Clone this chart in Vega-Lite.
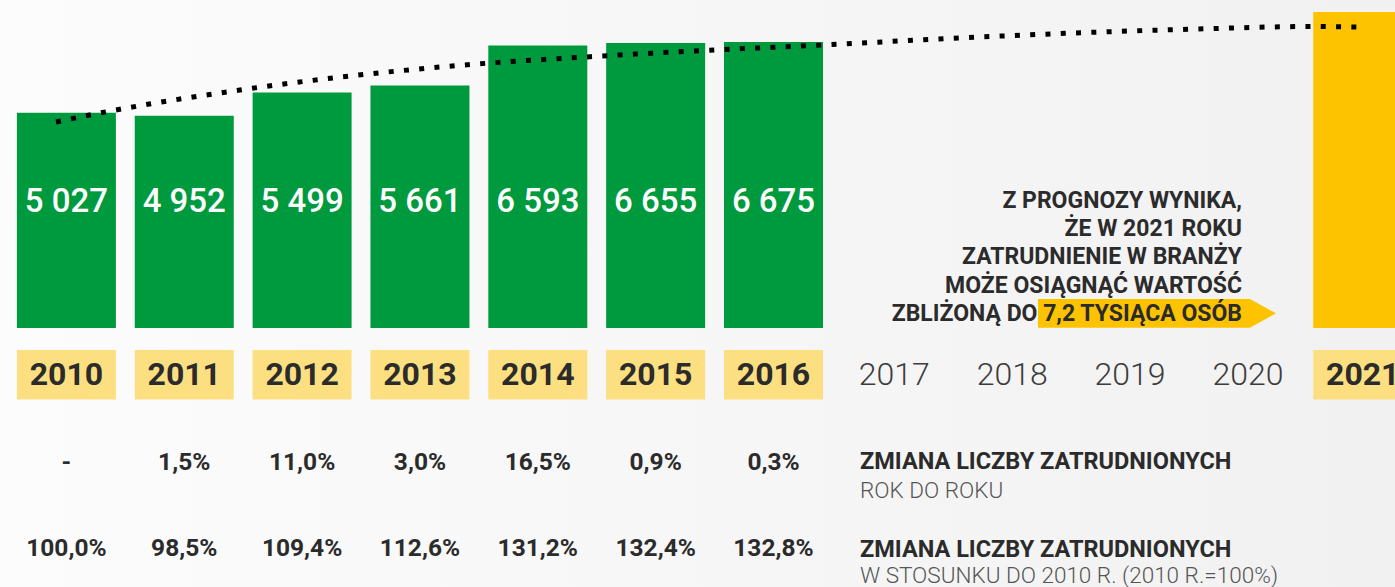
{
  "$schema": "https://vega.github.io/schema/vega-lite/v6.json",
  "width": 1395,
  "height": 587,
  "autosize": {"type": "none"},
  "padding": 0,
  "background": "#f6f6f6",
  "config": {
    "view": {"stroke": null, "fill": {"gradient": "linear", "x1": 0, "y1": 0, "x2": 1, "y2": 0, "stops": [{"offset": 0, "color": "#fcfcfc"}, {"offset": 1, "color": "#f1f1f1"}]}},
    "font": "Roboto",
    "text": {"font": "Roboto"}
  },
  "datasets": {
    "bars": [
      {"year": 2010, "value": 5027, "label": "5 027", "kind": "dane"},
      {"year": 2011, "value": 4952, "label": "4 952", "kind": "dane"},
      {"year": 2012, "value": 5499, "label": "5 499", "kind": "dane"},
      {"year": 2013, "value": 5661, "label": "5 661", "kind": "dane"},
      {"year": 2014, "value": 6593, "label": "6 593", "kind": "dane"},
      {"year": 2015, "value": 6655, "label": "6 655", "kind": "dane"},
      {"year": 2016, "value": 6675, "label": "6 675", "kind": "dane"},
      {"year": 2021, "value": 7375, "label": "", "kind": "prognoza"}
    ],
    "years": [
      {"year": 2010, "boxed": true},
      {"year": 2011, "boxed": true},
      {"year": 2012, "boxed": true},
      {"year": 2013, "boxed": true},
      {"year": 2014, "boxed": true},
      {"year": 2015, "boxed": true},
      {"year": 2016, "boxed": true},
      {"year": 2017, "boxed": false},
      {"year": 2018, "boxed": false},
      {"year": 2019, "boxed": false},
      {"year": 2020, "boxed": false},
      {"year": 2021, "boxed": true}
    ],
    "table": [
      {"year": 2010, "yoy": "-", "idx": "100,0%"},
      {"year": 2011, "yoy": "1,5%", "idx": "98,5%"},
      {"year": 2012, "yoy": "11,0%", "idx": "109,4%"},
      {"year": 2013, "yoy": "3,0%", "idx": "112,6%"},
      {"year": 2014, "yoy": "16,5%", "idx": "131,2%"},
      {"year": 2015, "yoy": "0,9%", "idx": "132,4%"},
      {"year": 2016, "yoy": "0,3%", "idx": "132,8%"}
    ],
    "trend": [
      {"year": 2009.912, "value": 4808},
      {"year": 2010.285, "value": 5018},
      {"year": 2011.473, "value": 5555},
      {"year": 2012.406, "value": 5882},
      {"year": 2013.427, "value": 6150},
      {"year": 2014.445, "value": 6332},
      {"year": 2015.438, "value": 6482},
      {"year": 2016.422, "value": 6605},
      {"year": 2017.39, "value": 6745},
      {"year": 2018.544, "value": 6885},
      {"year": 2019.596, "value": 6979},
      {"year": 2020.555, "value": 7037},
      {"year": 2020.979, "value": 7025}
    ]
  },
  "layer": [
    {
      "data": {"name": "bars"},
      "mark": {"type": "bar", "width": 99},
      "encoding": {
        "x": {"field": "year", "type": "quantitative", "axis": null, "scale": {"domain": [2009.4366, 2021.2736], "nice": false, "zero": false, "padding": 0}},
        "y": {"field": "value", "type": "quantitative", "axis": null, "scale": {"domain": [-6045, 7656], "nice": false, "zero": false, "padding": 0}},
        "y2": {"datum": 0},
        "color": {"field": "kind", "type": "nominal", "legend": null, "scale": {"domain": ["dane", "prognoza"], "range": ["#009a3e", "#fdc300"]}}
      }
    },
    {
      "data": {"name": "bars"},
      "transform": [{"filter": "datum.label != ''"}],
      "mark": {"type": "text", "color": "#ffffff", "fontSize": 33, "fontWeight": 500, "align": "center", "baseline": "middle"},
      "encoding": {
        "x": {"field": "year", "type": "quantitative", "axis": null},
        "y": {"datum": 2941, "type": "quantitative", "axis": null},
        "text": {"field": "label", "type": "nominal"}
      }
    },
    {
      "data": {"name": "years"},
      "transform": [{"filter": "datum.boxed"}],
      "mark": {"type": "bar", "width": 99, "color": "#fcdf80"},
      "encoding": {
        "x": {"field": "year", "type": "quantitative", "axis": null},
        "y": {"datum": -513, "type": "quantitative", "axis": null},
        "y2": {"datum": -1669}
      }
    },
    {
      "data": {"name": "years"},
      "transform": [{"filter": "datum.boxed"}],
      "mark": {"type": "text", "color": "#2b2b2b", "fontSize": 32, "fontWeight": 700, "align": "center", "baseline": "middle"},
      "encoding": {
        "x": {"field": "year", "type": "quantitative", "axis": null},
        "y": {"datum": -1104, "type": "quantitative", "axis": null},
        "text": {"field": "year", "type": "nominal"}
      }
    },
    {
      "data": {"name": "years"},
      "transform": [{"filter": "!datum.boxed"}],
      "mark": {"type": "text", "color": "#3c3c3c", "fontSize": 32, "fontWeight": 300, "align": "center", "baseline": "middle", "dx": 3},
      "encoding": {
        "x": {"field": "year", "type": "quantitative", "axis": null},
        "y": {"datum": -1104, "type": "quantitative", "axis": null},
        "text": {"field": "year", "type": "nominal"}
      }
    },
    {
      "data": {"name": "table"},
      "mark": {"type": "text", "color": "#2b2b2b", "fontSize": 24.5, "fontWeight": 700, "align": "center", "baseline": "middle"},
      "encoding": {
        "x": {"field": "year", "type": "quantitative", "axis": null},
        "y": {"datum": -3146, "type": "quantitative", "axis": null},
        "text": {"field": "yoy", "type": "nominal"}
      }
    },
    {
      "data": {"name": "table"},
      "mark": {"type": "text", "color": "#2b2b2b", "fontSize": 24.5, "fontWeight": 700, "align": "center", "baseline": "middle"},
      "encoding": {
        "x": {"field": "year", "type": "quantitative", "axis": null},
        "y": {"datum": -5153, "type": "quantitative", "axis": null},
        "text": {"field": "idx", "type": "nominal"}
      }
    },
    {
      "data": {"values": [{}]},
      "mark": {"type": "text", "color": "#2b2b2b", "fontSize": 23.5, "fontWeight": 700, "align": "left", "baseline": "middle", "text": "ZMIANA LICZBY ZATRUDNIONYCH"},
      "encoding": {
        "x": {"datum": 2016.734, "type": "quantitative", "axis": null},
        "y": {"datum": -3121, "type": "quantitative", "axis": null}
      }
    },
    {
      "data": {"values": [{}]},
      "mark": {"type": "text", "color": "#555555", "fontSize": 22.5, "fontWeight": 300, "align": "left", "baseline": "middle", "text": "ROK DO ROKU"},
      "encoding": {
        "x": {"datum": 2016.734, "type": "quantitative", "axis": null},
        "y": {"datum": -3809, "type": "quantitative", "axis": null}
      }
    },
    {
      "data": {"values": [{}]},
      "mark": {"type": "text", "color": "#2b2b2b", "fontSize": 23.5, "fontWeight": 700, "align": "left", "baseline": "middle", "text": "ZMIANA LICZBY ZATRUDNIONYCH"},
      "encoding": {
        "x": {"datum": 2016.734, "type": "quantitative", "axis": null},
        "y": {"datum": -5170, "type": "quantitative", "axis": null}
      }
    },
    {
      "data": {"values": [{}]},
      "mark": {"type": "text", "color": "#555555", "fontSize": 22.5, "fontWeight": 300, "align": "left", "baseline": "middle", "text": "W STOSUNKU DO 2010 R. (2010 R.=100%)"},
      "encoding": {
        "x": {"datum": 2016.734, "type": "quantitative", "axis": null},
        "y": {"datum": -5781, "type": "quantitative", "axis": null}
      }
    },
    {
      "data": {"name": "trend"},
      "mark": {"type": "line", "color": "#000000", "strokeWidth": 5, "strokeDash": [5, 10.3], "interpolate": "monotone"},
      "encoding": {
        "x": {"field": "year", "type": "quantitative", "axis": null},
        "y": {"field": "value", "type": "quantitative", "axis": null}
      }
    },
    {
      "data": {"values": [{}]},
      "mark": {"type": "rect", "color": "#fdc300"},
      "encoding": {
        "x": {"datum": 2018.244, "type": "quantitative", "axis": null},
        "x2": {"datum": 2020.043},
        "y": {"datum": 677, "type": "quantitative", "axis": null},
        "y2": {"datum": 7}
      }
    },
    {
      "data": {"values": [{}]},
      "mark": {"type": "point", "shape": "M-1,-1L0.81,0L-1,1Z", "size": 824, "filled": true, "opacity": 1, "color": "#fdc300", "strokeWidth": 0},
      "encoding": {
        "x": {"datum": 2020.165, "type": "quantitative", "axis": null},
        "y": {"datum": 342, "type": "quantitative", "axis": null}
      }
    },
    {
      "data": {"values": [{}]},
      "mark": {"type": "text", "color": "#2b2b2b", "fontSize": 23, "fontWeight": 700, "align": "right", "baseline": "middle", "lineHeight": 28.25,
        "text": ["Z PROGNOZY WYNIKA,", "ŻE W 2021 ROKU", "ZATRUDNIENIE W BRANŻY", "MOŻE OSIĄGNĄĆ WARTOŚĆ", "ZBLIŻONĄ DO  7,2 TYSIĄCA OSÓB"]},
      "encoding": {
        "x": {"datum": 2019.975, "type": "quantitative", "axis": null},
        "y": {"datum": 2969, "type": "quantitative", "axis": null}
      }
    }
  ]
}
